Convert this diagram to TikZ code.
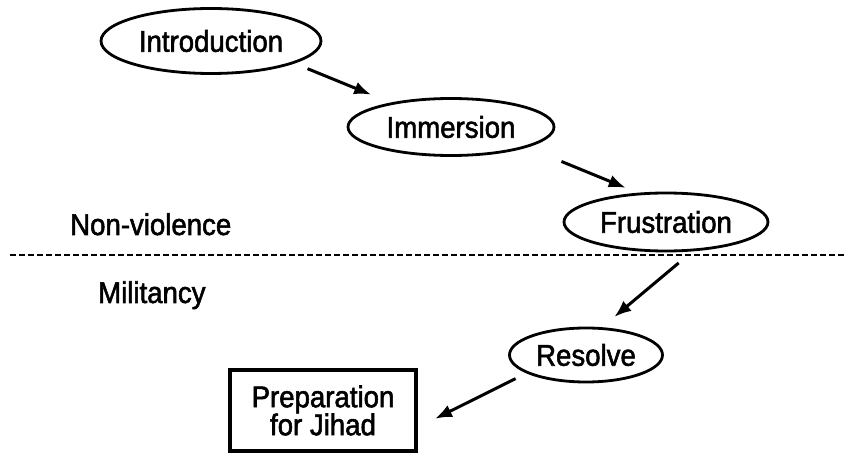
\documentclass[tikz,border=0pt]{standalone}
\usepackage{fontspec}
\setmainfont[FakeBold=1.8,FakeStretch=0.92]{Liberation Sans}
\usetikzlibrary{shapes.geometric,arrows.meta}
\begin{document}
\begin{tikzpicture}[x=1pt,y=-1pt,
  every node/.style={font=\fontsize{30}{28}\selectfont},
  oval/.style={ellipse,draw,line width=2.8pt,inner sep=0pt,text height=21.5pt,text depth=0pt},
  arr/.style={line width=3pt,-{Latex[length=17pt,width=13pt]}},
  divider/.style={line width=2.8pt,dash pattern=on 6pt off 3pt},
  lbl/.style={anchor=base west,inner sep=0pt},
  boxnode/.style={draw,line width=4pt,align=center,minimum width=186pt,minimum height=81pt,inner sep=0pt}]
\useasboundingbox (0,0) rectangle (844,454);
\node[oval,minimum width=220pt,minimum height=65pt] (intro) at (211,41) {Introduction};
\node[oval,minimum width=206pt,minimum height=57pt] (imm) at (451,127) {Immersion};
\node[oval,minimum width=204pt,minimum height=58pt] (frus) at (666,222) {Frustration};
\node[oval,minimum width=153pt,minimum height=54pt] (res) at (586,355) {Resolve};
\node[boxnode] (prep) at (323,410.5) {Preparation\\for Jihad};
\node[lbl] (nv) at (70,235) {Non-violence};
\node[lbl] (mil) at (98,303) {Militancy};
\coordinate (dl) at (10,255);
\coordinate (dr) at (844,255);
\draw[divider] (dl) -- (dr);
\draw[arr,shorten <=14pt,shorten >=21pt] (intro.-15) -- (imm.158);
\draw[arr,shorten <=37pt,shorten >=13pt] (imm.-15) -- (frus.134);
\draw[arr,shorten <=18pt,shorten >=16pt] (frus.-48) -- (res.60);
\draw[arr,shorten <=12pt,shorten >=19pt] (res.197) -- (prep.-10.6);
\end{tikzpicture}
\end{document}
